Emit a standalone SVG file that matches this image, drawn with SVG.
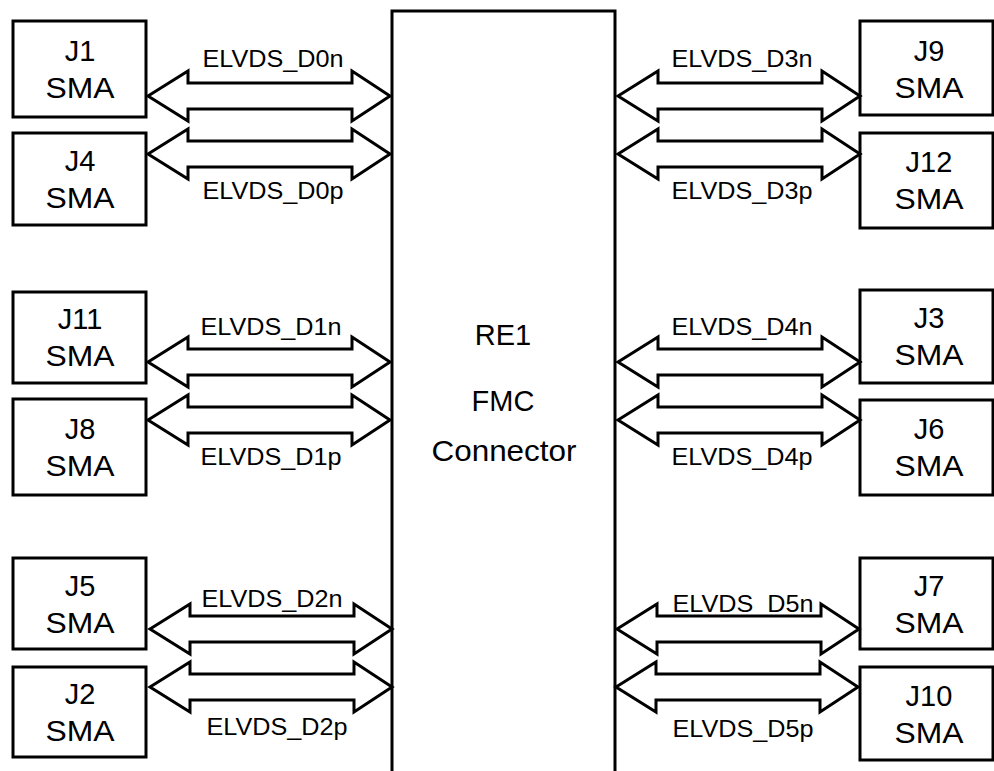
<svg xmlns="http://www.w3.org/2000/svg" xmlns:xlink="http://www.w3.org/1999/xlink" width="994" height="771" viewBox="0 0 994 771">
  <style>
    .box { fill: #ffffff; stroke: #000000; stroke-width: 3; }
    .arrow { fill: #ffffff; stroke: #000000; stroke-width: 3; stroke-linejoin: miter; }
    .big { font-family: "Liberation Sans", Arial, sans-serif; font-size: 29px; fill: #000000; text-anchor: middle; }
    .lbl { font-family: "Liberation Sans", Arial, sans-serif; font-size: 23px; fill: #000000; text-anchor: middle; }
  </style>
  <defs>
    <polygon id="dbl" class="arrow" points="0,0 40,-25 40,-13 204,-13 204,-25 242,0 204,25 204,13 40,13 40,25"/>
  </defs>
  <rect x="0" y="0" width="994" height="771" fill="#ffffff"/>

  <g id="RE1">
    <path class="box" d="M392,775 L392,11 L615,11 L615,775"/>
    <text class="big" x="503" y="345">RE1</text>
    <text class="big" x="503" y="411">FMC</text>
    <text class="big" x="504" y="461" textLength="145" lengthAdjust="spacingAndGlyphs">Connector</text>
  </g>

  <g id="J1"><rect class="box" x="13" y="21" width="133" height="96"/><text class="big" x="80" y="61">J1</text><text class="big" x="80" y="98" textLength="69" lengthAdjust="spacingAndGlyphs">SMA</text></g>
  <g id="J4"><rect class="box" x="13" y="133" width="133" height="92"/><text class="big" x="80" y="171">J4</text><text class="big" x="80" y="208" textLength="69" lengthAdjust="spacingAndGlyphs">SMA</text></g>
  <g id="J11"><rect class="box" x="13" y="292" width="133" height="91"/><text class="big" x="80" y="329">J11</text><text class="big" x="80" y="366" textLength="69" lengthAdjust="spacingAndGlyphs">SMA</text></g>
  <g id="J8"><rect class="box" x="13" y="399" width="133" height="96"/><text class="big" x="80" y="439">J8</text><text class="big" x="80" y="476" textLength="69" lengthAdjust="spacingAndGlyphs">SMA</text></g>
  <g id="J5"><rect class="box" x="13" y="558" width="133" height="91"/><text class="big" x="80" y="596">J5</text><text class="big" x="80" y="633" textLength="69" lengthAdjust="spacingAndGlyphs">SMA</text></g>
  <g id="J2"><rect class="box" x="13" y="667" width="133" height="90"/><text class="big" x="80" y="704">J2</text><text class="big" x="80" y="741" textLength="69" lengthAdjust="spacingAndGlyphs">SMA</text></g>

  <g id="J9"><rect class="box" x="860" y="21" width="133" height="94"/><text class="big" x="929" y="61">J9</text><text class="big" x="929" y="98" textLength="69" lengthAdjust="spacingAndGlyphs">SMA</text></g>
  <g id="J12"><rect class="box" x="860" y="133" width="133" height="95"/><text class="big" x="929" y="172">J12</text><text class="big" x="929" y="209" textLength="69" lengthAdjust="spacingAndGlyphs">SMA</text></g>
  <g id="J3"><rect class="box" x="860" y="290" width="133" height="93"/><text class="big" x="929" y="328">J3</text><text class="big" x="929" y="365" textLength="69" lengthAdjust="spacingAndGlyphs">SMA</text></g>
  <g id="J6"><rect class="box" x="860" y="400" width="133" height="95"/><text class="big" x="929" y="439">J6</text><text class="big" x="929" y="476" textLength="69" lengthAdjust="spacingAndGlyphs">SMA</text></g>
  <g id="J7"><rect class="box" x="860" y="558" width="133" height="91"/><text class="big" x="929" y="596">J7</text><text class="big" x="929" y="633" textLength="69" lengthAdjust="spacingAndGlyphs">SMA</text></g>
  <g id="J10"><rect class="box" x="860" y="667" width="133" height="93"/><text class="big" x="929" y="706">J10</text><text class="big" x="929" y="743" textLength="69" lengthAdjust="spacingAndGlyphs">SMA</text></g>

  <g id="connectors">
    <use xlink:href="#dbl" href="#dbl" transform="translate(148,96)"/>
    <use xlink:href="#dbl" href="#dbl" transform="translate(148,154)"/>
    <use xlink:href="#dbl" href="#dbl" transform="translate(148,362)"/>
    <use xlink:href="#dbl" href="#dbl" transform="translate(148,420)"/>
    <use xlink:href="#dbl" href="#dbl" transform="translate(150,629)"/>
    <use xlink:href="#dbl" href="#dbl" transform="translate(150,687)"/>
    <use xlink:href="#dbl" href="#dbl" transform="translate(618,96)"/>
    <use xlink:href="#dbl" href="#dbl" transform="translate(618,154)"/>
    <use xlink:href="#dbl" href="#dbl" transform="translate(618,362)"/>
    <use xlink:href="#dbl" href="#dbl" transform="translate(618,420)"/>
    <use xlink:href="#dbl" href="#dbl" transform="translate(617,629)"/>
    <use xlink:href="#dbl" href="#dbl" transform="translate(616,687)"/>
    <text class="lbl" x="273" y="67" textLength="141" lengthAdjust="spacingAndGlyphs">ELVDS_D0n</text>
    <text class="lbl" x="273" y="199" textLength="141" lengthAdjust="spacingAndGlyphs">ELVDS_D0p</text>
    <text class="lbl" x="271" y="335" textLength="141" lengthAdjust="spacingAndGlyphs">ELVDS_D1n</text>
    <text class="lbl" x="271" y="465" textLength="141" lengthAdjust="spacingAndGlyphs">ELVDS_D1p</text>
    <text class="lbl" x="272" y="607" textLength="141" lengthAdjust="spacingAndGlyphs">ELVDS_D2n</text>
    <text class="lbl" x="277" y="735" textLength="141" lengthAdjust="spacingAndGlyphs">ELVDS_D2p</text>
    <text class="lbl" x="742" y="67" textLength="141" lengthAdjust="spacingAndGlyphs">ELVDS_D3n</text>
    <text class="lbl" x="742" y="199" textLength="141" lengthAdjust="spacingAndGlyphs">ELVDS_D3p</text>
    <text class="lbl" x="742" y="335" textLength="141" lengthAdjust="spacingAndGlyphs">ELVDS_D4n</text>
    <text class="lbl" x="742" y="465" textLength="141" lengthAdjust="spacingAndGlyphs">ELVDS_D4p</text>
    <text class="lbl" x="743" y="612" textLength="141" lengthAdjust="spacingAndGlyphs">ELVDS_D5n</text>
    <text class="lbl" x="743" y="737" textLength="141" lengthAdjust="spacingAndGlyphs">ELVDS_D5p</text>
  </g>
</svg>
